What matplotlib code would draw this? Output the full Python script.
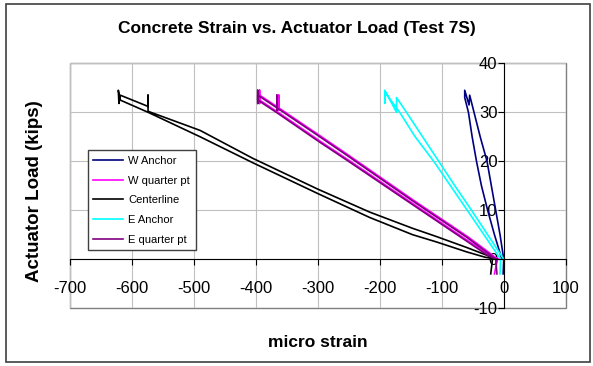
import matplotlib
matplotlib.use("Agg")
import matplotlib.pyplot as plt
from matplotlib.patches import Rectangle

plt.rcParams['font.family'] = ['Liberation Sans', 'DejaVu Sans']
plt.rcParams['axes.unicode_minus'] = False

# strain (micro strain) vs load (kips) traces
w_anchor_x = [0, -6, -13, -20, -27, -38, -48, -55, -56, -63, -63, -60, -57, -51, -44, -36, -26, -15, -3, 0, -1]
w_anchor_y = [0, 5, 10, 15, 20, 25, 30, 33.5, 31.5, 34.5, 33, 31.5, 30, 25, 20, 15, 10, 5, 0, 0, -3]

w_quarter_x = [-8, -22, -57, -132, -250, -294, -363, -394, -394, -394, -394, -363, -363, -363, -363, -294, -250, -144, -57, -22, -10, -15]
w_quarter_y = [0, 0.8, 3.7, 10.1, 20.2, 23.9, 29.9, 32.5, 34.5, 31.8, 33.5, 30.9, 33.5, 30.4, 30.9, 25.0, 21.2, 11.9, 4.5, 1.2, 0, -3]

center_x = [-11, -30, -60, -108, -147, -216, -300, -405, -490, -574, -619, -622, -621, -619, -574, -574, -574, -490, -405, -300, -216, -147, -108, -60, -25, -18, -21]
center_y = [0, 0.4, 1.5, 3.5, 5.0, 8.5, 13.4, 19.7, 25.0, 30.0, 32.5, 34.5, 31.8, 33.5, 31.2, 33.5, 30.2, 26.3, 20.6, 14.3, 9.6, 6.3, 4.6, 2.4, 0.7, 0.2, -3]

e_anchor_x = [0, -26, -52, -79, -105, -131, -157, -173, -173, -192, -192, -191, -168, -143, -113, -86, -59, -32, -5, -6]
e_anchor_y = [0, 5, 10, 15, 20, 25, 30, 33, 30, 34.5, 31.8, 34, 30, 25, 20, 15, 10, 5, 0, -3]

e_quarter_x = [-11, -25, -60, -135, -253, -297, -366, -397, -397, -397, -397, -366, -366, -366, -366, -297, -253, -147, -60, -25, -13, -11]
e_quarter_y = [0, 0.7, 3.7, 10.1, 20.2, 23.9, 29.9, 32.5, 34.5, 31.8, 33.5, 30.9, 33.5, 30.4, 30.9, 25.0, 21.2, 11.9, 4.5, 1.2, 0, -3]

x_ticks = list(range(-700, 101, 100))
y_ticks = list(range(-10, 41, 10))

fig = plt.figure(figsize=(5.93, 3.66), dpi=100)
ax = fig.add_axes([0.118, 0.158, 0.836, 0.669])

ax.plot(w_anchor_x, w_anchor_y, color='#000080', lw=1.2, label='W Anchor')
ax.plot(w_quarter_x, w_quarter_y, color='#ff00ff', lw=1.2, label='W quarter pt')
ax.plot(center_x, center_y, color='#000000', lw=1.2, label='Centerline')
ax.plot(e_anchor_x, e_anchor_y, color='#00ffff', lw=1.2, label='E Anchor')
ax.plot(e_quarter_x, e_quarter_y, color='#800080', lw=1.2, label='E quarter pt')

ax.set_xlim(-700, 100)
ax.set_ylim(-10, 40)
ax.set_xticks(x_ticks)
ax.set_yticks(y_ticks)
ax.grid(True, color='#c0c0c0', lw=0.8)
ax.set_axisbelow(True)

# axes cross at zero, grey frame around the plot area
ax.spines['left'].set_position(('data', 0))
ax.spines['bottom'].set_position(('data', 0))
ax.spines['top'].set_visible(False)
ax.spines['right'].set_visible(False)
ax.add_patch(Rectangle((0, 0), 1, 1, transform=ax.transAxes, fill=False,
                       ec='#808080', lw=1, clip_on=False, zorder=0.5))

ax.tick_params(axis='x', direction='out', length=4, pad=11.5, labelsize=12)
ax.tick_params(axis='y', direction='out', length=4, pad=0.5, labelsize=12)

ax.legend(loc='upper left', bbox_to_anchor=(0.036, 0.645), fontsize=8,
          handlelength=2.7, handletextpad=0.45, labelspacing=0.88,
          borderpad=0.5, borderaxespad=0, fancybox=False, framealpha=1,
          edgecolor='#404040')

fig.text(0.5, 0.923, 'Concrete Strain vs. Actuator Load (Test 7S)',
         ha='center', va='center', fontsize=12.5, fontweight='bold')
fig.text(0.059, 0.478, 'Actuator Load (kips)', rotation=90,
         ha='center', va='center', fontsize=13.5, fontweight='bold')
fig.text(0.536, 0.063, 'micro strain', ha='center', va='center',
         fontsize=12.5, fontweight='bold')

fig.patches.append(Rectangle((0.01, 0.012), 0.985, 0.978, transform=fig.transFigure,
                             fill=False, ec='#404040', lw=1.2))

fig.savefig('out.png', dpi=100)
